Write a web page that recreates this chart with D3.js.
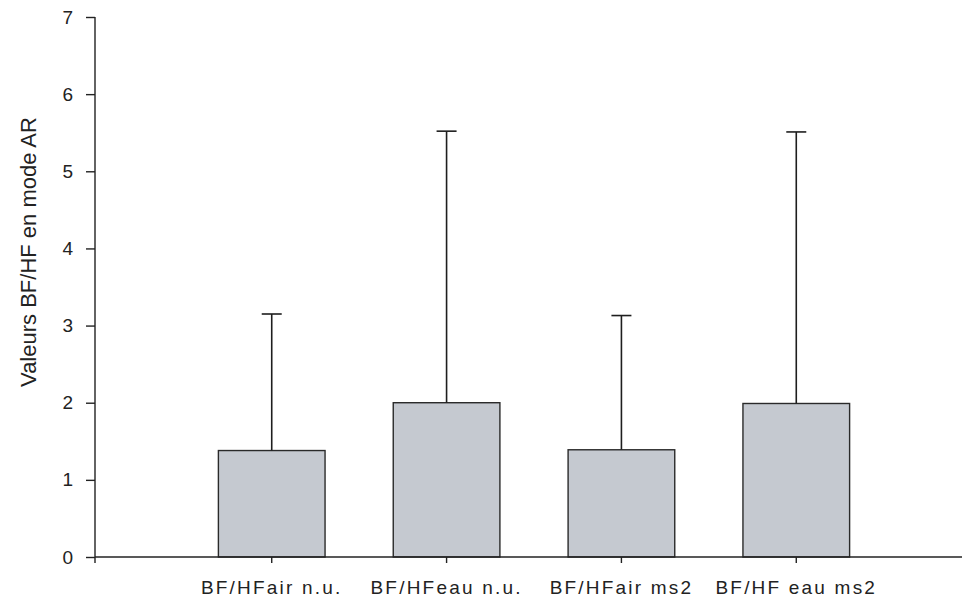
<!DOCTYPE html>
<html>
<head>
<meta charset="utf-8">
<script src="https://cdn.jsdelivr.net/npm/d3@7"></script>
<style>
  body { margin: 0; background: #fff; }
  svg text { font-family: "Liberation Sans", Arial, sans-serif; fill: #222; }
</style>
</head>
<body>
<div id="chart"></div>
<script>
// values
var categories = ["BF/HFair n.u.", "BF/HFeau n.u.", "BF/HFair ms2", "BF/HF eau ms2"];
var means = [1.38, 2.0, 1.39, 1.99];
var upperErr = [3.15, 5.52, 3.13, 5.51];
var yTicks = [0, 1, 2, 3, 4, 5, 6, 7];

var width = 964, height = 600;

var svg = d3.select("#chart").append("svg")
    .attr("width", width)
    .attr("height", height);

var x = d3.scaleBand()
    .domain(categories)
    .range([96, 972])
    .paddingInner(0.39)
    .paddingOuter(0.7);

var y = d3.scaleLinear()
    .domain([0, 7])
    .range([557, 17]);

// bars
svg.selectAll("rect.bar")
    .data(categories)
    .enter().append("rect")
    .attr("class", "bar")
    .attr("x", d => x(d))
    .attr("y", (d, i) => y(means[i]))
    .attr("width", x.bandwidth())
    .attr("height", (d, i) => y(0) - y(means[i]))
    .attr("fill", "#c5c9d0")
    .attr("stroke", "#2a2a2a")
    .attr("stroke-width", 1.4);

// error bars (upper only)
var eb = svg.selectAll("g.err")
    .data(categories)
    .enter().append("g")
    .attr("class", "err")
    .attr("stroke", "#1e1e1e")
    .attr("stroke-width", 1.6);

eb.append("line")
    .attr("x1", d => x(d) + x.bandwidth() / 2)
    .attr("x2", d => x(d) + x.bandwidth() / 2)
    .attr("y1", (d, i) => y(means[i]))
    .attr("y2", (d, i) => y(upperErr[i]));

eb.append("line")
    .attr("x1", d => x(d) + x.bandwidth() / 2 - 10)
    .attr("x2", d => x(d) + x.bandwidth() / 2 + 10)
    .attr("y1", (d, i) => y(upperErr[i]))
    .attr("y2", (d, i) => y(upperErr[i]));

// y axis
var yAxis = svg.append("g")
    .attr("transform", "translate(95,0)")
    .call(d3.axisLeft(y).tickValues(yTicks).tickSize(9).tickPadding(13).tickFormat(d3.format("d")));
yAxis.select(".domain").remove();
yAxis.append("line")
    .attr("x1", 0).attr("x2", 0)
    .attr("y1", y(7)).attr("y2", y(0) + 6)
    .attr("stroke", "#222").attr("stroke-width", 1.4);
yAxis.selectAll(".tick line").attr("stroke", "#222").attr("stroke-width", 1.4);
yAxis.selectAll(".tick text").attr("font-size", 19).style("fill", "#222");

// x axis
var xAxis = svg.append("g")
    .attr("transform", "translate(0," + y(0) + ")")
    .call(d3.axisBottom(x).tickSize(6).tickPadding(18));
xAxis.select(".domain").remove();
xAxis.append("line")
    .attr("x1", 95).attr("x2", 962)
    .attr("y1", 0).attr("y2", 0)
    .attr("stroke", "#222").attr("stroke-width", 1.4);
xAxis.selectAll(".tick line").attr("stroke", "#222").attr("stroke-width", 1.4);
xAxis.selectAll(".tick text")
    .attr("font-size", 19)
    .attr("letter-spacing", "2.2px")
    .style("fill", "#222");

// y title
svg.append("text")
    .attr("transform", "translate(36,252) rotate(-90)")
    .attr("text-anchor", "middle")
    .attr("font-size", 22)
    .text("Valeurs BF/HF en mode AR");
</script>
</body>
</html>
